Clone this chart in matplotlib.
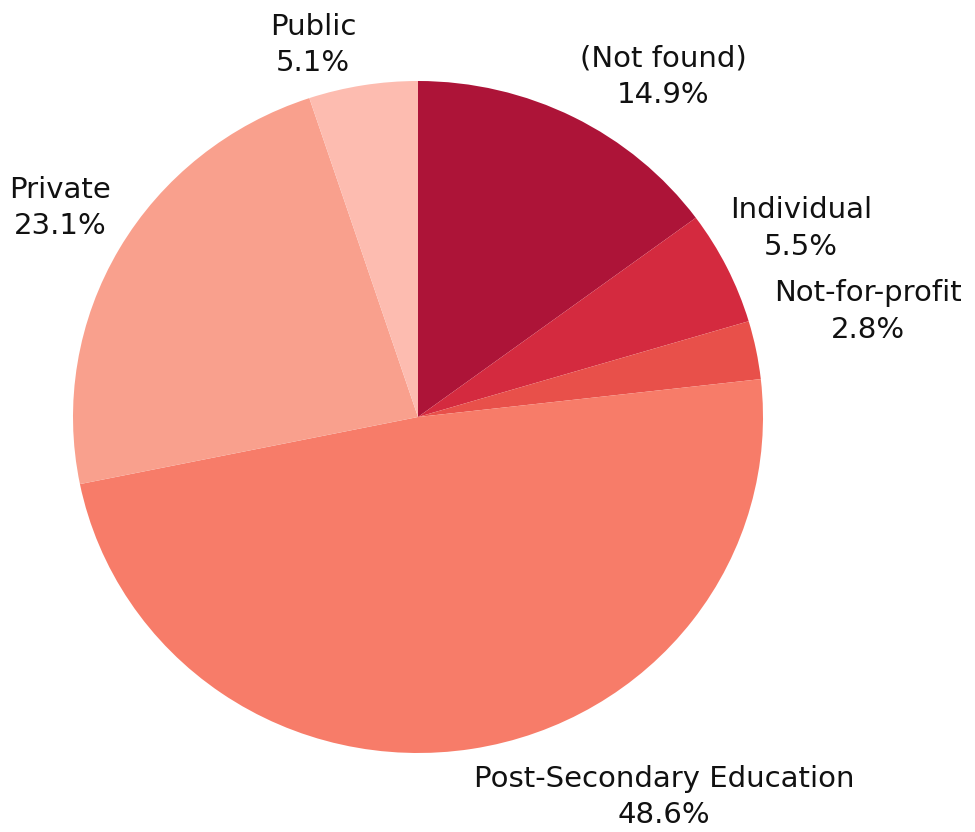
import matplotlib
matplotlib.use('Agg')
import matplotlib.pyplot as plt

# Data
labels = ['(Not found)', 'Individual', 'Not-for-profit',
          'Post-Secondary Education', 'Private', 'Public']
shares = [14.9, 5.5, 2.8, 48.6, 23.1, 5.1]
colors = ['#AD1438', '#D42A3F', '#E8504A', '#F77C69', '#F9A08D', '#FDBCB0']

# label anchors (data units, pie radius = 1)
label_pos = [(0.710, 1.012), (1.110, 0.562), (1.304, 0.315),
             (0.713, -1.131), (-1.038, 0.622), (-0.304, 1.107)]

fig = plt.figure(figsize=(9.75, 8.32), dpi=100)
ax = fig.add_axes([0, 0, 1, 1])

ax.pie(shares, colors=colors, startangle=90, counterclock=False,
       wedgeprops=dict(linewidth=0), radius=1)

for lab, val, (x, y) in zip(labels, shares, label_pos):
    ax.text(x, y, '%s\n%.1f%%' % (lab, val), ha='center', va='center',
            fontsize=21, family='DejaVu Sans', color='#111111',
            linespacing=1.4)

# slightly wider than tall, like the original
ax.set_aspect('auto')
ax.set_xlim(-418/345, (975-418)/345)
ax.set_ylim(-415/336, 417/336)
ax.axis('off')

plt.savefig('out.png')
